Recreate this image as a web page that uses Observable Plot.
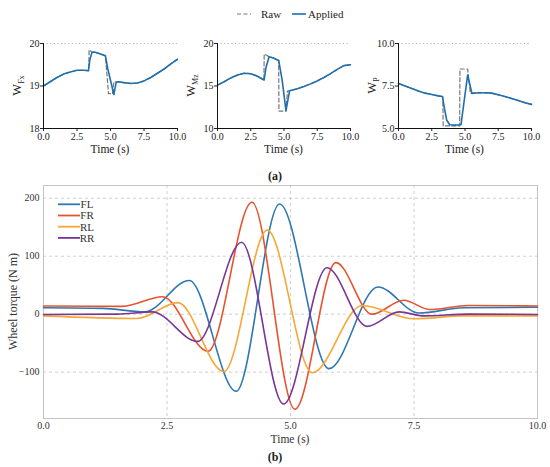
<!DOCTYPE html>
<html>
<head>
<meta charset="utf-8">
<script src="https://cdn.jsdelivr.net/npm/d3@7"></script>
<script src="https://cdn.jsdelivr.net/npm/@observablehq/plot@0.6"></script>
<style>
  html, body { margin: 0; padding: 0; background: #fff; }
  #wrap { position: relative; width: 550px; height: 467px; overflow: hidden; font-family: 'Liberation Serif', 'DejaVu Serif', serif; background: #fff; }
  #wrap svg, #wrap svg text { font-family: 'Liberation Serif', 'DejaVu Serif', serif !important; }
  .abs { position: absolute; }
  .abs svg { max-width: none; overflow: visible; }
</style>
</head>
<body>
<div id="wrap"></div>
<script>
// ---------- Data: panel (a) weights ----------
const fxAppT = [0, 0.5, 1.0, 1.5, 2.0, 2.5, 3.0, 3.35, 3.45, 3.6, 3.8, 4.2, 4.62, 4.8, 5.1, 5.25, 5.42, 5.6, 6.0, 6.5, 7.0, 7.5, 8.0, 8.5, 9.0, 9.5, 10];
const fxAppV = [19.0, 19.1, 19.2, 19.28, 19.33, 19.37, 19.37, 19.36, 19.6, 19.78, 19.8, 19.76, 19.71, 19.4, 19.0, 18.8, 19.08, 19.1, 19.08, 19.06, 19.07, 19.12, 19.2, 19.3, 19.4, 19.52, 19.63];
const fxRawT = [0, 0.5, 1.0, 1.5, 2.0, 2.5, 3.0, 3.38, 3.4, 3.6, 3.8, 4.2, 4.62, 4.85, 5.15, 5.25, 5.6, 6.0, 6.5, 7.0, 7.5, 8.0, 8.5, 9.0, 9.5, 10];
const fxRawV = [19.0, 19.1, 19.2, 19.28, 19.33, 19.37, 19.37, 19.36, 19.85, 19.8, 19.8, 19.76, 19.71, 18.82, 18.82, 19.1, 19.1, 19.08, 19.06, 19.07, 19.12, 19.2, 19.3, 19.4, 19.52, 19.63];

const mzAppT = [0, 0.5, 1.0, 1.5, 2.0, 2.5, 3.0, 3.5, 3.65, 3.88, 4.2, 4.6, 4.85, 5.15, 5.42, 6.0, 6.5, 7.0, 7.5, 8.0, 8.5, 9.0, 9.5, 10];
const mzAppV = [15.1, 15.5, 15.95, 16.3, 16.5, 16.45, 16.15, 15.7, 17.2, 18.45, 18.3, 18.0, 15.8, 12.1, 14.45, 14.67, 14.95, 15.25, 15.6, 16.0, 16.45, 16.95, 17.4, 17.5];
const mzRawT = [0, 0.5, 1.0, 1.5, 2.0, 2.5, 3.0, 3.49, 3.51, 3.88, 4.2, 4.6, 4.62, 5.15, 5.26, 5.42, 6.0, 6.5, 7.0, 7.5, 8.0, 8.5, 9.0, 9.5, 10];
const mzRawV = [15.1, 15.5, 15.95, 16.3, 16.5, 16.45, 16.15, 15.7, 18.75, 18.45, 18.3, 18.0, 12.05, 12.05, 14.4, 14.45, 14.67, 14.95, 15.25, 15.6, 16.0, 16.45, 16.95, 17.4, 17.5];

const pAppT = [0, 0.5, 1.0, 1.5, 2.0, 2.5, 3.0, 3.3, 3.45, 3.62, 3.85, 4.2, 4.7, 4.95, 5.2, 5.52, 6.0, 6.5, 7.0, 7.5, 8.0, 8.5, 9.0, 9.5, 10];
const pAppV = [7.65, 7.5, 7.35, 7.2, 7.08, 7.0, 6.92, 6.88, 6.2, 5.5, 5.22, 5.2, 5.22, 6.7, 8.15, 7.06, 7.1, 7.1, 7.08, 6.98, 6.88, 6.77, 6.65, 6.52, 6.42];
const pRawT = [0, 0.5, 1.0, 1.5, 2.0, 2.5, 3.0, 3.33, 3.36, 4.6, 4.62, 5.2, 5.4, 6.0, 6.5, 7.0, 7.5, 8.0, 8.5, 9.0, 9.5, 10];
const pRawV = [7.65, 7.5, 7.35, 7.2, 7.08, 7.0, 6.92, 6.88, 5.15, 5.15, 8.5, 8.5, 7.08, 7.1, 7.1, 7.08, 6.98, 6.88, 6.77, 6.65, 6.52, 6.42];

// tick labels / domains for (a)
const fxTicks = [18, 19, 20];
const mzTicks = [10, 15, 20];
const pTicks = [5, 7.5, 10];
const timeTicks = [0, 2.5, 5, 7.5, 10];

// ---------- Data: panel (b) wheel torques ----------
const wheelNames = ["FL", "FR", "RL", "RR"];
const wheelColors = ["#2e78b0", "#e6532f", "#f6a836", "#7a3595"];
const flT = [0, 1.2, 2.05, 2.95, 3.9, 4.78, 5.78, 6.77, 7.6, 8.5, 10];
const flV = [11, 10, 4, 58, -133, 190, -94, 47, 2, 11, 12];
const frT = [0, 1.6, 2.41, 3.33, 4.22, 5.09, 5.92, 6.65, 7.29, 7.82, 8.6, 10];
const frV = [14, 13.5, 30, -64, 193, -164, 89, 0, 24, 8, 15, 14];
const rlT = [0, 1.9, 2.72, 3.65, 4.53, 5.44, 6.45, 7.5, 8.5, 10];
const rlV = [-3, -7.5, 20, -99, 145, -101, 15, -8, -3, -3];
const rrT = [0, 1.5, 2.2, 3.12, 4.01, 4.86, 5.74, 6.55, 7.2, 7.7, 8.6, 10];
const rrV = [-0.5, 0, 4, -47, 124, -155, 80, -21, 4, -3, 0, -0.5];
const torqueTicks = [-100, 0, 100, 200];

// ---------- helpers ----------
const wrap = document.getElementById("wrap");
const FONT = "'Liberation Serif', 'DejaVu Serif', serif";
function place(el, left, top) {
  const d = document.createElement("div");
  d.className = "abs";
  d.style.left = left + "px";
  d.style.top = top + "px";
  d.appendChild(el);
  wrap.appendChild(d);
  return el;
}
const zip = (t, v, extra) => t.map((x, i) => Object.assign({t: x, v: v[i]}, extra || {}));

// ---------- panel (a) ----------
const BLUE = "#1f6fad";
function weightPanel(x0, x1, yDomain, yTicks, fmt, appT, appV, rawT, rawV, sub) {
  const mL = 43, mR = 8, top = 20, mT = 23, mB = 32, H = 140;
  const W = mL + (x1 - x0) + mR;
  const app = zip(appT, appV), raw = zip(rawT, rawV);
  const svg = Plot.plot({
    width: W, height: H,
    marginLeft: mL, marginRight: mR, marginTop: mT, marginBottom: mB,
    style: {fontFamily: FONT, fontSize: "10px", background: "transparent", color: "#222", overflow: "visible"},
    x: {domain: [0, 10], ticks: timeTicks, tickFormat: d3.format(".1f"), tickSize: 3, tickPadding: 1.5, label: null},
    y: {domain: yDomain, ticks: yTicks, tickFormat: fmt, tickSize: 3, tickPadding: 1, label: null},
    marks: [
      Plot.ruleY([yDomain[1]], {stroke: "#aaa", strokeDasharray: "1,2.6", strokeWidth: 1}),
      Plot.line(raw, {x: "t", y: "v", stroke: "#777", strokeWidth: 1.2, strokeDasharray: "4,2.5"}),
      Plot.line(app, {x: "t", y: "v", stroke: BLUE, strokeWidth: 1.6}),
      Plot.ruleX([0], {stroke: "#111", strokeWidth: 1}),
      Plot.ruleY([yDomain[0]], {stroke: "#111", strokeWidth: 1})
    ]
  });
  const left = x0 - mL;
  place(svg, left, top);
  const s = d3.select(svg);
  // y label with subscript
  const lbl = s.append("text")
    .attr("transform", `translate(${mL - 22},${mT + (H - mT - mB) / 2}) rotate(-90)`)
    .attr("text-anchor", "middle")
    .attr("font-family", FONT).attr("font-size", 12.5).attr("fill", "#222");
  lbl.append("tspan").text("W");
  lbl.append("tspan").attr("font-size", 8).attr("dy", 3).text(sub);
  // x label
  s.append("text")
    .attr("x", mL + (x1 - x0) / 2).attr("y", 149 - top)
    .attr("text-anchor", "middle").attr("dy", "0.35em")
    .attr("font-family", FONT).attr("font-size", 11.5).attr("fill", "#222")
    .text("Time (s)");
}
weightPanel(43, 177, [18, 20], fxTicks, d3.format("d"), fxAppT, fxAppV, fxRawT, fxRawV, "Fx");
weightPanel(217, 350, [10, 20], mzTicks, d3.format("d"), mzAppT, mzAppV, mzRawT, mzRawV, "Mz");
weightPanel(398, 531, [5, 10], pTicks, d3.format(".1f"), pAppT, pAppV, pRawT, pRawV, "P");

// top legend
(function () {
  const ns = "http://www.w3.org/2000/svg";
  const svg = document.createElementNS(ns, "svg");
  svg.setAttribute("width", 140); svg.setAttribute("height", 20);
  const s = d3.select(svg);
  s.append("line").attr("x1", 6).attr("x2", 20).attr("y1", 10).attr("y2", 10)
    .attr("stroke", "#777").attr("stroke-width", 1.2).attr("stroke-dasharray", "4,2.5");
  s.append("text").attr("x", 30).attr("y", 10).attr("dy", "0.35em")
    .attr("font-family", FONT).attr("font-size", 11).attr("fill", "#222").text("Raw");
  s.append("line").attr("x1", 61).attr("x2", 75).attr("y1", 10).attr("y2", 10)
    .attr("stroke", BLUE).attr("stroke-width", 1.6);
  s.append("text").attr("x", 77).attr("y", 10).attr("dy", "0.35em")
    .attr("font-family", FONT).attr("font-size", 11).attr("fill", "#222").text("Applied");
  place(svg, 231, 4);
})();

// caption (a)
(function () {
  const d = document.createElement("div");
  d.className = "abs";
  d.style.cssText = "left:0;top:169px;width:550px;text-align:center;font-weight:bold;font-size:12px;color:#222";
  d.textContent = "(a)";
  wrap.appendChild(d);
})();

// ---------- panel (b) ----------
(function () {
  const series = [zip(flT, flV, {w: "FL"}), zip(frT, frV, {w: "FR"}), zip(rlT, rlV, {w: "RL"}), zip(rrT, rrV, {w: "RR"})];
  const all = series.flat();
  const top = 178, H = 289, mT = 7, mB = 49, mL = 43, mR = 13;
  const svg = Plot.plot({
    width: 550, height: H,
    marginLeft: mL, marginRight: mR, marginTop: mT, marginBottom: mB,
    style: {fontFamily: FONT, fontSize: "10px", background: "transparent", color: "#333", overflow: "visible"},
    x: {domain: [0, 10], ticks: timeTicks, tickFormat: d3.format(".1f"), tickSize: 0, tickPadding: 3, label: null},
    y: {domain: [-180, 222], ticks: torqueTicks, tickSize: 0, tickPadding: 4, label: null},
    color: {domain: wheelNames, range: wheelColors},
    marks: [
      Plot.ruleX([2.5, 5, 7.5], {stroke: "#c8c8c8", strokeDasharray: "3,3", strokeWidth: 0.9}),
      Plot.ruleY(torqueTicks, {stroke: "#c8c8c8", strokeDasharray: "3,3", strokeWidth: 0.9}),
      Plot.frame({stroke: "#c4c4c4", strokeWidth: 1}),
      Plot.line(all, {x: "t", y: "v", z: "w", stroke: "w", strokeWidth: 1.6, curve: "monotone-x"})
    ]
  });
  place(svg, 0, top);
  const s = d3.select(svg);
  s.append("text")
    .attr("transform", `translate(13,${mT + (H - mT - mB) / 2}) rotate(-90)`)
    .attr("text-anchor", "middle").attr("dy", "0.35em")
    .attr("font-family", FONT).attr("font-size", 12).attr("fill", "#333")
    .text("Wheel torque (N m)");
  s.append("text")
    .attr("x", mL + (550 - mL - mR) / 2).attr("y", 438.5 - top).attr("dy", "0.35em")
    .attr("text-anchor", "middle")
    .attr("font-family", FONT).attr("font-size", 11.5).attr("fill", "#333")
    .text("Time (s)");
  // legend
  wheelNames.forEach((n, i) => {
    const y = 204.3 + i * 11.2 - top;
    s.append("line").attr("x1", 58).attr("x2", 80).attr("y1", y).attr("y2", y)
      .attr("stroke", wheelColors[i]).attr("stroke-width", 1.8);
    s.append("text").attr("x", 87).attr("y", y).attr("dy", "0.35em")
      .attr("font-family", FONT).attr("font-size", 11).attr("fill", "#333").text(n);
  });
})();

// caption (b)
(function () {
  const d = document.createElement("div");
  d.className = "abs";
  d.style.cssText = "left:0;top:450px;width:550px;text-align:center;font-weight:bold;font-size:12px;color:#222";
  d.textContent = "(b)";
  wrap.appendChild(d);
})();
</script>
</body>
</html>
